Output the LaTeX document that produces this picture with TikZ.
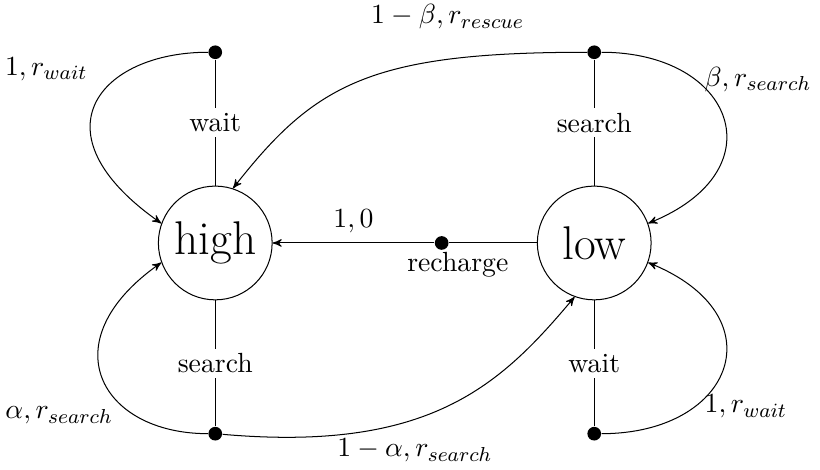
\documentclass[tikz,border=0pt,11pt]{standalone}
\usetikzlibrary{arrows, positioning}

\begin{document}
\begin{tikzpicture}[
			>=stealth',
			state/.style={draw,circle,minimum size=1.58cm,inner sep=0pt,font=\fontsize{18.7}{22}\selectfont},
			act/.style={fill,circle,minimum size=0.19cm,inner sep=0pt},
			lbl/.style={fill=white,inner sep=2pt}
		]
			\useasboundingbox (-2.99,-3.15) rectangle (8.40,3.375);

			\node (high) [state] at (0,0) {high};
			\node (low) [state,right=3.67cm of high] {low};
			\node (hWait) [act,above=1.75cm of high] {};
			\node (hSearch) [act,below=1.75cm of high] {};
			\node (lSearch) [act,above=1.75cm of low] {};
			\node (lWait) [act,below=1.75cm of low] {};
			\node (lRecharge) [act,left=1.22cm of low] {};

			% actions
			\draw (high) -- node[lbl] {wait} (hWait);
			\draw (high) -- node[lbl] {search} (hSearch);
			\draw (low) -- node[lbl] {search} (lSearch);
			\draw (low) -- node[lbl] {wait} (lWait);
			\draw (low) -- node[below,pos=0.9] {recharge} (lRecharge);

			% transitions
			\draw[->] (lRecharge) -- node[above] {$1, 0$} (high);
			\draw[->] (hWait) .. controls +(180:1.6) and +(145:2.2) .. node[pos=0.28,left=13pt] {$1, r_{wait}$} (high.160);
			\draw[->] (hSearch) .. controls +(180:1.6) and +(215:1.9) .. node[pos=0.27,left=5pt] {$\alpha, r_{search}$} (high.200);
			\draw[->] (hSearch) .. controls +(-5:3) and +(230:1.6) .. node[pos=0.4,below=4pt] {$1-\alpha, r_{search}$} (low.250);
			\draw[->] (lSearch) .. controls +(0:1.95) and +(22:1.95) .. node[pos=0.3,right] {$\beta, r_{search}$} (low.20);
			\draw[->] (lSearch) .. controls +(180:3.1) and +(52:1.85) .. node[pos=0.26,above=8pt] {$1-\beta, r_{rescue}$} (high.72);
			\draw[->] (lWait) .. controls +(0:1.95) and +(338:1.95) .. node[pos=0.3,right] {$1, r_{wait}$} (low.340);
		\end{tikzpicture}
\end{document}
